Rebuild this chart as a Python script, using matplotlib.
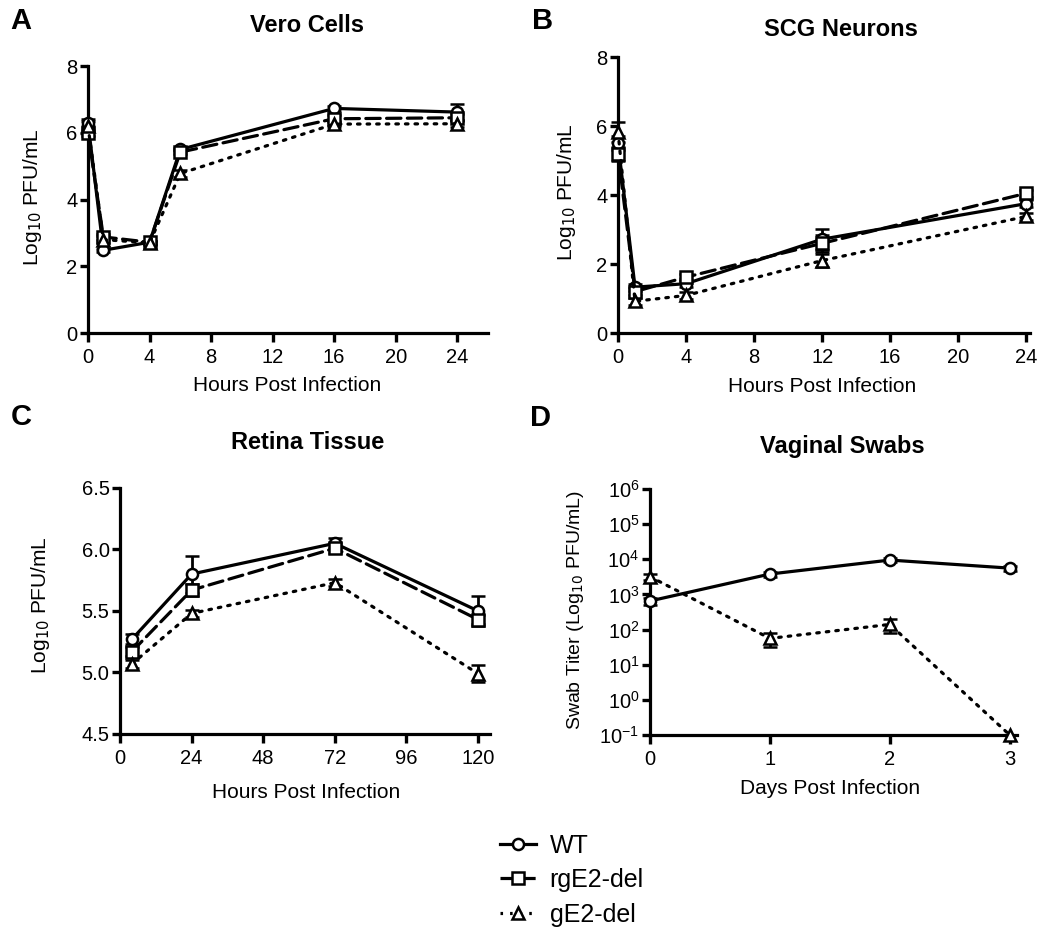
import matplotlib
matplotlib.use("Agg")
import matplotlib.pyplot as plt
from matplotlib.lines import Line2D

plt.rcParams.update(
    {
        "font.family": ["Liberation Sans", "DejaVu Sans"],
        "axes.linewidth": 2.3,
        "xtick.major.width": 2.4,
        "ytick.major.width": 2.4,
        "xtick.major.size": 6.5,
        "ytick.major.size": 6,
        "xtick.major.pad": 4,
        "ytick.major.pad": 1.5,
        "xtick.labelsize": 14.5,
        "ytick.labelsize": 14.5,
    }
)

STRAINS = ["WT", "rgE2-del", "gE2-del"]

# Panel A: Vero cells
vero_hours = [0, 1, 4, 6, 16, 24]
vero_wt = [6.3, 2.48, 2.72, 5.5, 6.73, 6.62]
vero_wt_err = [0.1, 0.05, 0.05, 0.05, 0.08, 0.25]
vero_rg = [6.0, 2.88, 2.72, 5.42, 6.42, 6.45]
vero_rg_err = [0.1, 0.1, 0.05, 0.05, 0.1, 0.1]
vero_ge = [6.2, 2.8, 2.7, 4.78, 6.26, 6.27]
vero_ge_err = [0.15, 0.1, 0.05, 0.1, 0.1, 0.1]

# Panel B: SCG neurons
scg_hours = [0, 1, 4, 12, 24]
scg_wt = [5.5, 1.33, 1.43, 2.72, 3.75]
scg_wt_err = [0.2, 0.1, 0.1, 0.3, 0.1]
scg_rg = [5.2, 1.2, 1.62, 2.6, 4.05]
scg_rg_err = [0.2, 0.1, 0.1, 0.25, 0.1]
scg_ge = [5.83, 0.92, 1.09, 2.1, 3.38]
scg_ge_err = [0.3, 0.1, 0.1, 0.2, 0.1]

# Panel C: retina tissue
ret_hours = [4, 24, 72, 120]
ret_wt = [5.27, 5.8, 6.05, 5.5]
ret_wt_err = [0.04, 0.15, 0.04, 0.12]
ret_rg = [5.17, 5.67, 6.01, 5.43]
ret_rg_err = [0.04, 0.05, 0.04, 0.04]
ret_ge = [5.07, 5.48, 5.73, 4.99]
ret_ge_err = [0.03, 0.03, 0.03, 0.07]

# Panel D: vaginal swabs
swab_days = [0, 1, 2, 3]
swab_wt = [650, 3800, 9500, 5600]
swab_wt_err = [150, 600, 1200, 1000]
swab_ge = [3200, 56, 140, 0.1]
swab_ge_err = [600, 25, 60, 0]

STYLE = {
    "WT": dict(marker="o", linestyle="-"),
    "rgE2-del": dict(marker="s", linestyle=(0, (4.5, 2))),
    "gE2-del": dict(marker="^", linestyle=(0, (0.8, 2.2))),
}


def draw(ax, x, series):
    for name, y, err in series:
        st = STYLE[name]
        ax.errorbar(
            x, y, yerr=err, color="black", linewidth=2.3,
            linestyle=st["linestyle"], marker=st["marker"], markersize=8,
            markerfacecolor="white", markeredgecolor="black",
            markeredgewidth=1.8, ecolor="black", elinewidth=2,
            capsize=5, capthick=2, clip_on=False, zorder=3,
            dash_capstyle="round",
        )


def style(ax):
    ax.spines[["top", "right"]].set_visible(False)
    ax.tick_params(direction="out")


def px(x, y):
    return x / 1050, 1 - y / 930


fig = plt.figure(figsize=(10.5, 9.3), dpi=100)

# A
axA = fig.add_axes([0.0838, 0.6419, 0.381, 0.2871])
draw(axA, vero_hours, [("WT", vero_wt, vero_wt_err),
                       ("rgE2-del", vero_rg, vero_rg_err),
                       ("gE2-del", vero_ge, vero_ge_err)])
axA.set_xlim(0, 26)
axA.set_ylim(0, 8)
axA.set_xticks(range(0, 25, 4))
axA.set_yticks(range(0, 9, 2))
style(axA)

# B
axB = fig.add_axes([0.5886, 0.6419, 0.392, 0.2968])
draw(axB, scg_hours, [("WT", scg_wt, scg_wt_err),
                      ("rgE2-del", scg_rg, scg_rg_err),
                      ("gE2-del", scg_ge, scg_ge_err)])
axB.set_xlim(0, 24.2)
axB.set_ylim(0, 8)
axB.set_xticks(range(0, 25, 4))
axB.set_yticks(range(0, 9, 2))
style(axB)

# C
axC = fig.add_axes([0.1143, 0.2108, 0.3524, 0.2645])
draw(axC, ret_hours, [("WT", ret_wt, ret_wt_err),
                      ("rgE2-del", ret_rg, ret_rg_err),
                      ("gE2-del", ret_ge, ret_ge_err)])
axC.set_xlim(0, 124)
axC.set_ylim(4.5, 6.5)
axC.set_xticks(range(0, 121, 24))
axC.set_yticks([4.5, 5.0, 5.5, 6.0, 6.5])
axC.set_yticklabels(["4.5", "5.0", "5.5", "6.0", "6.5"])
style(axC)

# D
axD = fig.add_axes([0.619, 0.2097, 0.3495, 0.2645])
draw(axD, swab_days, [("WT", swab_wt, swab_wt_err),
                      ("gE2-del", swab_ge, swab_ge_err)])
axD.set_yscale("log")
axD.set_xlim(0, 3.06)
axD.set_ylim(0.1, 1e6)
axD.set_xticks([0, 1, 2, 3])
axD.set_yticks([10.0 ** k for k in range(-1, 7)])
axD.minorticks_off()
style(axD)

# titles, panel letters, axis labels
for x, y, t in [(307, 26, "Vero Cells"), (841, 29, "SCG Neurons"),
                (308, 442, "Retina Tissue"), (842, 446, "Vaginal Swabs")]:
    fig.text(*px(x, y), t, ha="center", va="center",
             fontsize=17, fontweight="bold")
for x, y, t in [(21, 21, "A"), (543, 21, "B"), (21, 417, "C"), (541, 418, "D")]:
    fig.text(*px(x, y), t, ha="center", va="center",
             fontsize=21, fontweight="bold")
for x, y, t in [(287, 385, "Hours Post Infection"),
                (822, 386, "Hours Post Infection"),
                (306, 792, "Hours Post Infection"),
                (830, 788, "Days Post Infection")]:
    fig.text(*px(x, y), t, ha="center", va="center", fontsize=15)
for x, y, t, fs in [(32, 197, "Log$_{10}$ PFU/mL", 15),
                    (566, 192, "Log$_{10}$ PFU/mL", 15),
                    (40, 605, "Log$_{10}$ PFU/mL", 15),
                    (575, 610, "Swab Titer (Log$_{10}$ PFU/mL)", 14)]:
    fig.text(*px(x, y), t, ha="center", va="center", rotation=90, fontsize=fs)

handles = [
    Line2D([], [], color="black", linewidth=2.3, linestyle=STYLE[n]["linestyle"],
           marker=STYLE[n]["marker"], markersize=8, markerfacecolor="white",
           markeredgewidth=1.8)
    for n in STRAINS
]
fig.legend(handles, STRAINS, loc="center left",
           bbox_to_anchor=(0.464, 0.0535), frameon=False, fontsize=18,
           handlelength=1.45, handletextpad=0.55, labelspacing=0.42,
           borderpad=0)

fig.savefig("out.png", dpi=100)
